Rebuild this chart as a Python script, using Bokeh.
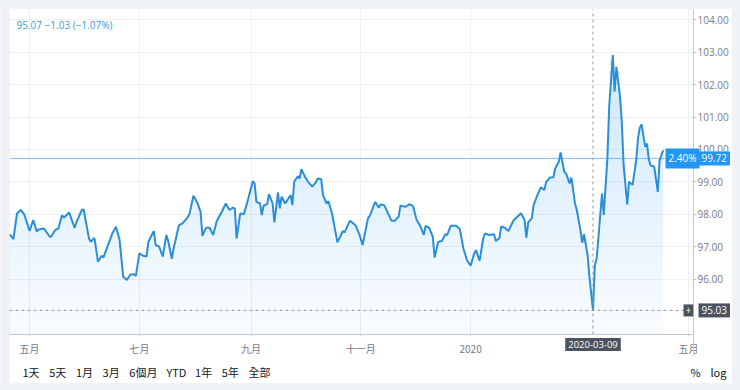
import numpy as np
import pandas as pd
from bokeh.plotting import figure
from bokeh.models import Range1d, FixedTicker, Label, NumeralTickFormatter, BoxAnnotation
from bokeh.embed import file_html
from bokeh.resources import INLINE

# ---------------- data ----------------
dates = [
"2019-04-20","2019-04-22","2019-04-24","2019-04-26","2019-04-28",
"2019-05-01","2019-05-03","2019-05-05","2019-05-06","2019-05-09","2019-05-12","2019-05-13","2019-05-15","2019-05-17","2019-05-19","2019-05-20","2019-05-23","2019-05-26","2019-05-27","2019-05-30","2019-05-31",
"2019-06-03","2019-06-04","2019-06-06","2019-06-08","2019-06-10","2019-06-11","2019-06-13","2019-06-16","2019-06-18","2019-06-20","2019-06-22","2019-06-24","2019-06-26","2019-06-28","2019-06-29",
"2019-07-01","2019-07-03","2019-07-05","2019-07-06","2019-07-09","2019-07-10","2019-07-12","2019-07-14","2019-07-16","2019-07-17","2019-07-19","2019-07-20","2019-07-23","2019-07-25","2019-07-28","2019-07-29","2019-07-31",
"2019-08-02","2019-08-04","2019-08-05","2019-08-07","2019-08-09","2019-08-11","2019-08-13","2019-08-16","2019-08-18","2019-08-20","2019-08-22","2019-08-23","2019-08-24","2019-08-26","2019-08-28","2019-08-30",
"2019-09-02","2019-09-03","2019-09-04","2019-09-06","2019-09-07","2019-09-08","2019-09-10","2019-09-11","2019-09-13","2019-09-14","2019-09-16","2019-09-17","2019-09-18","2019-09-20","2019-09-23","2019-09-24","2019-09-25","2019-09-27","2019-09-28","2019-09-29",
"2019-10-01","2019-10-03","2019-10-05","2019-10-07","2019-10-08","2019-10-10","2019-10-11","2019-10-13","2019-10-14","2019-10-16","2019-10-19","2019-10-22","2019-10-23","2019-10-26","2019-10-29","2019-10-31",
"2019-11-02","2019-11-05","2019-11-06","2019-11-09","2019-11-11","2019-11-12","2019-11-14","2019-11-16","2019-11-18","2019-11-20","2019-11-22","2019-11-23","2019-11-26","2019-11-28","2019-11-30",
"2019-12-02","2019-12-04","2019-12-06","2019-12-07","2019-12-09","2019-12-11","2019-12-12","2019-12-14","2019-12-16","2019-12-18","2019-12-19","2019-12-21","2019-12-24","2019-12-26","2019-12-28","2019-12-30",
"2020-01-01","2020-01-03","2020-01-04","2020-01-06","2020-01-08","2020-01-09","2020-01-11","2020-01-14","2020-01-15","2020-01-17","2020-01-18","2020-01-20","2020-01-22","2020-01-25","2020-01-27","2020-01-29","2020-01-31",
"2020-02-01","2020-02-02","2020-02-04","2020-02-05","2020-02-07","2020-02-09","2020-02-11","2020-02-12","2020-02-14","2020-02-16","2020-02-17","2020-02-19","2020-02-20","2020-02-22","2020-02-23","2020-02-25","2020-02-26","2020-02-28","2020-02-29",
"2020-03-02","2020-03-03","2020-03-04","2020-03-06","2020-03-07","2020-03-09","2020-03-10","2020-03-11","2020-03-12","2020-03-14","2020-03-15","2020-03-17","2020-03-18","2020-03-20","2020-03-21","2020-03-22","2020-03-24","2020-03-25","2020-03-26","2020-03-28","2020-03-29","2020-03-31",
"2020-04-02","2020-04-03","2020-04-04","2020-04-05","2020-04-07","2020-04-08","2020-04-09","2020-04-10","2020-04-12","2020-04-14","2020-04-15","2020-04-17"]

values = [
97.38, 97.23, 98.02, 98.13, 98.00,
97.48, 97.82, 97.46, 97.53, 97.56, 97.32, 97.30, 97.50, 97.56, 97.97, 97.89, 98.05, 97.58, 97.75, 98.13, 98.15,
97.25, 97.15, 97.27, 96.53, 96.72, 96.66, 96.96, 97.41, 97.61, 97.20, 96.07, 95.97, 96.14, 96.15, 96.09,
96.79, 96.72, 96.69, 97.15, 97.48, 97.05, 97.00, 96.69, 97.36, 97.17, 96.62, 96.94, 97.66, 97.72, 97.92, 98.04, 98.57,
98.38, 98.07, 97.33, 97.58, 97.58, 97.36, 97.79, 98.10, 98.33, 98.13, 98.20, 98.18, 97.25, 98.02, 98.00, 98.38,
99.02, 98.95, 98.38, 98.33, 97.97, 98.26, 98.31, 98.62, 98.33, 97.75, 98.67, 98.18, 98.54, 98.33, 98.59, 98.28, 99.00, 99.17, 99.10, 99.39,
99.15, 98.98, 98.85, 98.98, 99.10, 99.08, 98.59, 98.33, 98.40, 98.02, 97.13, 97.48, 97.44, 97.80, 97.66, 97.41,
97.05, 97.87, 97.95, 98.38, 98.20, 98.30, 98.28, 98.04, 97.80, 97.80, 97.92, 98.26, 98.23, 98.31, 98.25,
97.82, 97.64, 97.36, 97.64, 97.58, 97.30, 96.66, 97.15, 97.17, 97.38, 97.36, 97.64, 97.64, 97.54, 96.94, 96.58,
96.41, 96.79, 96.89, 96.56, 97.25, 97.41, 97.36, 97.38, 97.17, 97.26, 97.62, 97.58, 97.48, 97.82, 97.92, 98.03, 97.82,
97.28, 97.75, 97.87, 98.28, 98.57, 98.83, 98.75, 99.00, 99.13, 99.14, 99.41, 99.62, 99.91, 99.31, 99.26, 98.95, 99.13, 98.33, 98.13,
97.51, 97.12, 97.38, 96.74, 96.07, 95.03, 96.43, 96.61, 97.26, 98.64, 97.98, 99.74, 101.32, 102.91, 101.78, 102.55, 101.62, 100.85, 99.52, 98.30, 99.00, 98.90,
99.67, 100.34, 100.67, 100.77, 100.08, 100.18, 99.70, 99.50, 99.47, 98.69, 99.67, 99.97]

x_tick_dates = ["2019-05-01", "2019-07-01", "2019-09-01", "2019-11-01", "2020-01-01", "2020-05-01"]
x_tick_labels = ["五月", "七月", "九月", "十一月", "2020", "五月"]
y_ticks = [96, 97, 98, 99, 100, 101, 102, 103, 104]

last_price = 99.72
last_change_pct = "2.40%"
cross_date = "2020-03-09"
cross_value = 95.03
legend_text = "95.07 \u22121.03 (\u22121.07%)"
buttons = ["1天", "5天", "1月", "3月", "6個月", "YTD", "1年", "5年", "全部"]
right_buttons = ["%", "log"]

# ---------------- layout calibration (page pixels) ----------------
W, H = 740, 390
BASE = pd.Timestamp("2019-04-20")
X0, PXD = 9.3, 1.8          # page x of BASE, pixels per day
Y104, PXU = 19.3, 32.4      # page y of 104.00, pixels per unit

def xd(px):
    return BASE + pd.Timedelta(days=(px - X0) / PXD)

def yd(py):
    return 104 - (py - Y104) / PXU

def ms(t):
    return pd.Timestamp(t).value / 1e6

def sy(py):
    return H - py

CARD_L, CARD_R, CARD_T, CARD_B = 9, 732, 8, 383
PLOT_L, PLOT_R, PLOT_T, PLOT_B = 10, 693, 9, 334

xs = pd.to_datetime(dates)
vals = np.array(values)

p = figure(width=W, height=H, x_axis_type="datetime", y_axis_location="right",
           output_backend="svg", toolbar_location=None,
           x_range=Range1d(xd(0), xd(W)), y_range=Range1d(yd(H), yd(0)),
           min_border=0, min_border_left=0, min_border_right=0,
           min_border_top=0, min_border_bottom=0)
p.title.visible = False
p.outline_line_color = None
p.background_fill_color = "white"
p.border_fill_color = "white"

FONT = "Noto Sans CJK TC"
NUMFONT = "Open Sans"
GRID = "#eef0f4"
AXIS = "#c3c6cd"
LABEL = "#787b86"
PAGE = "#eff2f7"

# grids
xt = [ms(d) for d in x_tick_dates]
p.xgrid.ticker = FixedTicker(ticks=xt)
p.xgrid.grid_line_color = GRID
p.ygrid.ticker = FixedTicker(ticks=y_ticks)
p.ygrid.grid_line_color = GRID

# masks for areas outside the plotting region (drawn above grid)
for kw in [dict(left=PLOT_R, right=CARD_R, top=sy(CARD_T), bottom=sy(CARD_B)),
           dict(left=CARD_L, right=CARD_R, top=sy(PLOT_B), bottom=sy(CARD_B))]:
    p.add_layout(BoxAnnotation(left_units="screen", right_units="screen",
                               top_units="screen", bottom_units="screen",
                               fill_color="white", fill_alpha=1, line_color=None,
                               level="underlay", **kw))
for kw in [dict(right=CARD_L), dict(left=CARD_R), dict(bottom=sy(CARD_T)), dict(top=sy(CARD_B))]:
    units = {k + "_units": "screen" for k in kw}
    p.add_layout(BoxAnnotation(fill_color=PAGE, fill_alpha=1, line_color=None,
                               level="underlay", **kw, **units))

# gradient-like area fill (bands)
y_floor = yd(PLOT_B)
top_val = vals.max()
nb = 28
edges = np.linspace(y_floor, top_val, nb + 1)
for i in range(nb):
    lo, hi = edges[i], edges[i + 1]
    frac = (i + 0.5) / nb
    p.varea(x=xs, y1=lo, y2=np.clip(vals, lo, hi),
            fill_color="#2196f3", fill_alpha=0.025 + 0.2 * frac)

p.line(xs, vals, line_color="#2b8fd8", line_width=2)

# price line and crosshair
p.segment(x0=[xd(CARD_L)], y0=[last_price], x1=[xd(PLOT_R)], y1=[last_price],
          line_color="#2196f3", line_alpha=0.55, line_width=1)
p.segment(x0=[pd.Timestamp(cross_date)], y0=[yd(PLOT_B)], x1=[pd.Timestamp(cross_date)],
          y1=[yd(PLOT_T)], line_color="#9598a1", line_dash="3 3", line_width=1)
p.segment(x0=[xd(CARD_L)], y0=[cross_value], x1=[xd(PLOT_R)], y1=[cross_value],
          line_color="#9598a1", line_dash="3 3", line_width=1)

# axes (fixed inside the full-canvas frame)
p.xaxis.fixed_location = yd(PLOT_B)
p.xaxis.bounds = (ms(xd(CARD_L)), ms(xd(PLOT_R)))
p.xaxis.ticker = FixedTicker(ticks=xt)
p.xaxis.major_label_overrides = {t: l for t, l in zip(xt, x_tick_labels)}
p.xaxis.axis_line_color = AXIS
p.xaxis.major_tick_line_color = AXIS
p.xaxis.major_tick_out = 2
p.xaxis.major_tick_in = 0
p.xaxis.minor_tick_line_color = None
p.xaxis.major_label_standoff = 4
p.xaxis.major_label_text_font = FONT
p.xaxis.major_label_text_font_size = "10px"
p.xaxis.major_label_text_color = LABEL

p.yaxis.fixed_location = ms(xd(PLOT_R))
p.yaxis.bounds = (yd(355), yd(PLOT_T))
p.yaxis.ticker = FixedTicker(ticks=y_ticks)
p.yaxis.formatter = NumeralTickFormatter(format="0.00")
p.yaxis.axis_line_color = AXIS
p.yaxis.major_tick_line_color = AXIS
p.yaxis.major_tick_out = 3
p.yaxis.major_tick_in = 0
p.yaxis.minor_tick_line_color = None
p.yaxis.major_label_standoff = 1
p.yaxis.major_label_text_font = NUMFONT
p.yaxis.major_label_text_font_size = "10px"
p.yaxis.major_label_text_color = LABEL

# legend text
p.add_layout(Label(x=16, y=sy(24), x_units="screen", y_units="screen", text=legend_text,
                   text_font=NUMFONT, text_font_size="10px", text_color="#3d9be3",
                   text_baseline="middle"))

# price tags
tag = dict(text_font=NUMFONT, text_font_size="10px", text_color="white",
           text_baseline="middle", x_units="screen")
p.add_layout(Label(x=665, y=last_price, text=last_change_pct,
                   background_fill_color="#2196f3", padding=3, **tag))
p.add_layout(Label(x=698, y=last_price, text="%.2f" % last_price,
                   background_fill_color="#2196f3", padding=3, **tag))
p.add_layout(Label(x=683, y=cross_value, text="+",
                   background_fill_color="#4c525e", padding=2, **tag))
p.add_layout(Label(x=698, y=cross_value, text="%.2f" % cross_value,
                   background_fill_color="#4c525e", padding=3, **tag))
p.add_layout(Label(x=pd.Timestamp(cross_date), y=sy(344), y_units="screen", text=cross_date,
                   text_font=NUMFONT, text_font_size="9.5px", text_color="white",
                   text_align="center", text_baseline="middle",
                   background_fill_color="#4c525e", padding=3))

# range buttons
bx = 22
for b in buttons:
    p.add_layout(Label(x=bx, y=sy(371), x_units="screen", y_units="screen", text=b,
                       text_font=FONT, text_font_size="11px", text_color="#131722",
                       text_baseline="middle"))
    bx += sum(10.5 if ord(c) > 0x2E80 else 6.2 for c in b) + 10
for t, x in zip(right_buttons, [690, 710]):
    p.add_layout(Label(x=x, y=sy(371), x_units="screen", y_units="screen", text=t,
                       text_font=FONT, text_font_size="11px", text_color="#131722",
                       text_baseline="middle"))

# card outline
p.add_layout(BoxAnnotation(left=CARD_L, right=CARD_R, top=sy(CARD_T), bottom=sy(CARD_B),
                           left_units="screen", right_units="screen",
                           top_units="screen", bottom_units="screen",
                           fill_alpha=0, line_color="#e1e4ea", line_width=1,
                           border_radius=5, level="overlay"))

html = file_html(p, INLINE)
html = html.replace("</head>",
                    "<style>html,body{margin:0 !important;padding:0 !important;"
                    "overflow:hidden;background:%s;}</style></head>" % PAGE, 1)
open("out.html", "w").write(html)
